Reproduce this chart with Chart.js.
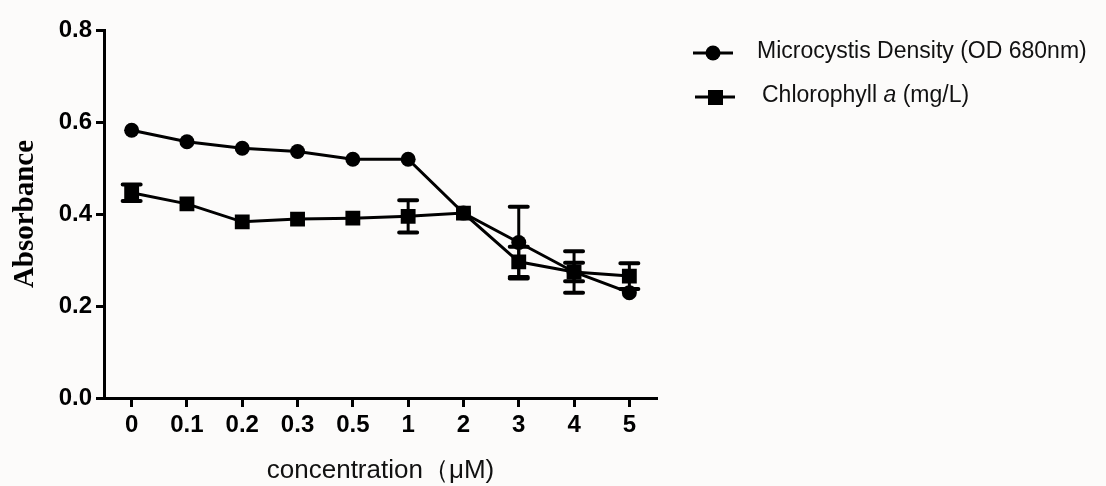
<!DOCTYPE html>
<html>
<head>
<meta charset="utf-8">
<script src="https://cdn.jsdelivr.net/npm/chart.js@4.4.0/dist/chart.umd.min.js"></script>
<style>
    body { margin: 0; background: #fcfbfa; }
    canvas { display: block; }
</style>
</head>
<body>
<canvas id="absChart" width="1106" height="486"></canvas>
<script>
// Data
const concentrations = ['0', '0.1', '0.2', '0.3', '0.5', '1', '2', '3', '4', '5'];
const densityValues = [0.582, 0.557, 0.543, 0.536, 0.519, 0.519, 0.402, 0.338, 0.274, 0.229];
const densityErrors = [0, 0, 0, 0, 0, 0, 0, 0.078, 0.02, 0];
const chlorophyllValues = [0.446, 0.422, 0.383, 0.389, 0.391, 0.395, 0.402, 0.296, 0.274, 0.265];
const chlorophyllErrors = [0.018, 0, 0, 0, 0, 0.035, 0, 0.033, 0.045, 0.028];
const yTickLabels = ['0.0', '0.2', '0.4', '0.6', '0.8'];

const SANS = '"Liberation Sans", Arial, sans-serif';

// Error bars drawn through the y scale
const errorBars = {
    id: 'errorBars',
    afterDatasetsDraw(chart) {
        const ctx = chart.ctx;
        const yScale = chart.scales.y;
        const errorSets = [densityErrors, chlorophyllErrors];
        ctx.save();
        ctx.strokeStyle = '#000';
        chart.data.datasets.forEach((ds, di) => {
            const meta = chart.getDatasetMeta(di);
            meta.data.forEach((pt, i) => {
                const v = ds.data[i];
                const e = errorSets[di][i];
                if (!e) return;
                const top = yScale.getPixelForValue(v + e);
                const bottom = yScale.getPixelForValue(v - e);
                ctx.lineWidth = 3;
                ctx.beginPath();
                ctx.moveTo(pt.x, top);
                ctx.lineTo(pt.x, bottom);
                ctx.stroke();
                ctx.lineWidth = 4;
                ctx.lineCap = 'round';
                ctx.beginPath();
                ctx.moveTo(pt.x - 9, top);
                ctx.lineTo(pt.x + 9, top);
                ctx.moveTo(pt.x - 9, bottom);
                ctx.lineTo(pt.x + 9, bottom);
                ctx.stroke();
                ctx.lineCap = 'butt';
            });
        });
        ctx.restore();
    }
};

// Legend at the top right (needs an italic "a")
const sideLegend = {
    id: 'sideLegend',
    afterDraw(chart) {
        const ctx = chart.ctx;
        ctx.save();
        ctx.fillStyle = '#000';
        ctx.strokeStyle = '#000';
        ctx.lineWidth = 3;

        // circle entry
        ctx.beginPath();
        ctx.moveTo(693, 53);
        ctx.lineTo(733, 53);
        ctx.stroke();
        ctx.beginPath();
        ctx.arc(713, 53, 7.5, 0, Math.PI * 2);
        ctx.fill();

        // square entry
        ctx.beginPath();
        ctx.moveTo(695, 97);
        ctx.lineTo(735, 97);
        ctx.stroke();
        ctx.fillRect(708, 90, 15, 15);

        ctx.textBaseline = 'middle';
        ctx.fillStyle = '#111';
        ctx.font = '23px ' + SANS;
        ctx.fillText('Microcystis Density (OD 680nm)', 757, 52);

        let x = 762;
        ctx.fillText('Chlorophyll ', x, 96);
        x += ctx.measureText('Chlorophyll ').width;
        ctx.font = 'italic 23px ' + SANS;
        ctx.fillText('a', x, 96);
        x += ctx.measureText('a').width;
        ctx.font = '23px ' + SANS;
        ctx.fillText(' (mg/L)', x, 96);
        ctx.restore();
    }
};

const ctx = document.getElementById('absChart').getContext('2d');
const absChart = new Chart(ctx, {
    type: 'line',
    data: {
        labels: concentrations,
        datasets: [{
            label: 'Microcystis Density (OD 680nm)',
            data: densityValues,
            borderColor: '#000',
            backgroundColor: '#000',
            borderWidth: 3,
            pointStyle: 'circle',
            pointRadius: 7.5,
            pointBorderWidth: 0,
            tension: 0
        }, {
            label: 'Chlorophyll a (mg/L)',
            data: chlorophyllValues,
            borderColor: '#000',
            backgroundColor: '#000',
            borderWidth: 3,
            pointStyle: 'rect',
            pointRadius: 10.5,
            pointBorderWidth: 0,
            tension: 0
        }]
    },
    options: {
        responsive: false,
        animation: false,
        devicePixelRatio: 1,
        layout: {
            padding: { top: 30, right: 449, bottom: 0, left: 0 }
        },
        plugins: {
            legend: { display: false },
            tooltip: { enabled: false }
        },
        scales: {
            x: {
                offset: true,
                grid: {
                    display: true,
                    drawOnChartArea: false,
                    tickLength: 9,
                    tickWidth: 3,
                    tickColor: '#000'
                },
                border: { display: true, width: 3, color: '#000' },
                ticks: {
                    color: '#000',
                    padding: 4,
                    font: { family: SANS, size: 24, weight: 'bold' }
                },
                title: {
                    display: true,
                    text: 'concentration\uFF08\u03BCM)',
                    color: '#111',
                    padding: { top: 5, bottom: 0 },
                    font: { family: SANS, size: 26 }
                },
                afterFit(scale) { scale.height = 88; }
            },
            y: {
                min: 0,
                max: 0.8,
                grid: {
                    display: true,
                    drawOnChartArea: false,
                    tickLength: 8,
                    tickWidth: 3,
                    tickColor: '#000'
                },
                border: { display: true, width: 3, color: '#000' },
                ticks: {
                    stepSize: 0.2,
                    color: '#000',
                    padding: 4,
                    font: { family: SANS, size: 24, weight: 'bold' },
                    callback: (v, i) => yTickLabels[i]
                },
                title: {
                    display: true,
                    text: 'Absorbance',
                    color: '#000',
                    padding: { top: 8, bottom: 0 },
                    font: { family: '"Liberation Serif", "Times New Roman", serif', size: 29, weight: 'bold' }
                },
                afterFit(scale) { scale.width = 104; }
            }
        }
    },
    plugins: [errorBars, sideLegend]
});
</script>
</body>
</html>
